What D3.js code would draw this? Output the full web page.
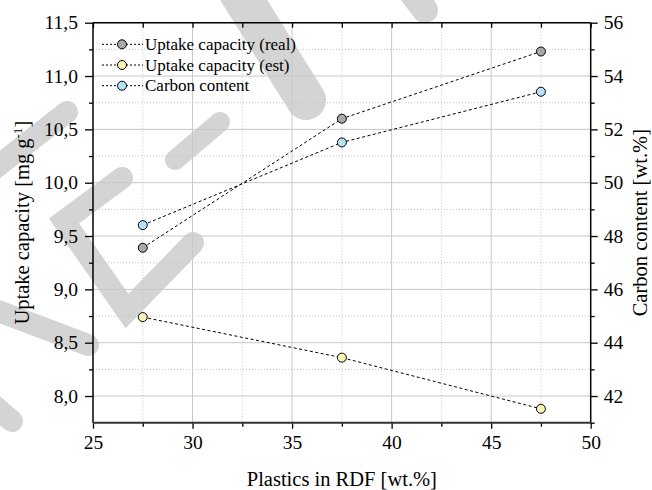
<!DOCTYPE html>
<html>
<head>
<meta charset="utf-8">
<script src="https://cdn.jsdelivr.net/npm/d3@7"></script>
<style>
  html, body { margin: 0; padding: 0; background: #fff; }
  svg { display: block; }
</style>
</head>
<body>
<div id="chart"></div>
<script>
// ---- data ----
const plastics = [27.5, 37.5, 47.5];
const uptakeReal = [9.39, 10.60, 11.23];
const uptakeEst = [8.74, 8.36, 7.88];
const carbonContent = [48.41, 51.51, 53.41];
const seriesNames = ["Uptake capacity (real)", "Uptake capacity (est)", "Carbon content"];
const seriesColors = ["#a9a9a9", "#f7f2b6", "#b6e2f8"];
const xTicks = [25, 30, 35, 40, 45, 50];
const xMinorTicks = [27.5, 32.5, 37.5, 42.5, 47.5];
const yLeftTicks = [8.0, 8.5, 9.0, 9.5, 10.0, 10.5, 11.0, 11.5];
const yLeftMinor = [8.25, 8.75, 9.25, 9.75, 10.25, 10.75, 11.25];
const yRightTicks = [42, 44, 46, 48, 50, 52, 54, 56];
const yRightMinor = [41, 43, 45, 47, 49, 51, 53, 55];

const FONT = "'Liberation Serif', Tinos, 'Times New Roman', Times, 'Nimbus Roman', 'Nimbus Roman No9 L', 'FreeSerif', 'Noto Serif', 'DejaVu Serif', Georgia, serif";
const W = 652, H = 490;
const L = 93, R = 590.7, T = 22.7, B = 422.7;

const svg = d3.select("#chart").append("svg").attr("width", W).attr("height", H);

// ---- watermark (light gray strokes) ----
const wm = [
  [[225, -30], [306, 100]],
  [[398, -25], [425, 10]],
  [[67, 112], [-20, 180]],
  [[122, 178], [64, 221], [127, 311], [193, 243]],
  [[175, 160], [220, 122]],
  [[-10, 308], [88, 345]],
  [[-15, 398], [12, 421]]
];
const wmW = [40, 26, 22, 22, 20, 22, 22];
const lineGen = d3.line();
svg.append("g").selectAll("path").data(wm).join("path")
  .attr("d", d => lineGen(d))
  .attr("fill", "none").attr("stroke", "#d4d4d4")
  .attr("stroke-width", (d, i) => wmW[i])
  .attr("stroke-linecap", "round").attr("stroke-linejoin", "miter");

// ---- scales ----
const x = d3.scaleLinear().domain([25, 50]).range([L, R]);
const yL = d3.scaleLinear().domain([7.75, 11.5]).range([B, T]);
const yR = d3.scaleLinear().domain([41, 56]).range([B, T]);

// ---- grid ----
const grid = svg.append("g");
grid.selectAll(".gxm").data(xMinorTicks).join("line")
  .attr("x1", d => x(d)).attr("x2", d => x(d)).attr("y1", T).attr("y2", B)
  .attr("stroke", "#c4c4c4").attr("stroke-width", 1).attr("stroke-dasharray", "1,2");
grid.selectAll(".gym").data(yLeftMinor).join("line")
  .attr("x1", L).attr("x2", R).attr("y1", d => yL(d)).attr("y2", d => yL(d))
  .attr("stroke", "#c4c4c4").attr("stroke-width", 1).attr("stroke-dasharray", "1,2");
grid.selectAll(".gx").data(xTicks.slice(1, -1)).join("line")
  .attr("x1", d => x(d)).attr("x2", d => x(d)).attr("y1", T).attr("y2", B)
  .attr("stroke", "#c8c8c8").attr("stroke-width", 1);
grid.selectAll(".gy").data(yLeftTicks).join("line")
  .attr("x1", L).attr("x2", R).attr("y1", d => yL(d)).attr("y2", d => yL(d))
  .attr("stroke", "#c8c8c8").attr("stroke-width", 1);

// ---- axes ----
const fmtL = d => d3.format(".1f")(d).replace(".", ",");
const axB = d3.axisBottom(x).tickValues(xTicks).tickSize(6).tickPadding(6).tickFormat(d3.format("d"));
const axBm = d3.axisBottom(x).tickValues(xMinorTicks).tickSize(4).tickFormat("");
const axL = d3.axisLeft(yL).tickValues(yLeftTicks).tickSize(8).tickPadding(7).tickFormat(fmtL);
const axLm = d3.axisLeft(yL).tickValues(yLeftMinor).tickSize(4).tickFormat("");
const axR = d3.axisRight(yR).tickValues(yRightTicks).tickSize(7).tickPadding(6).tickFormat(d3.format("d"));
const axRm = d3.axisRight(yR).tickValues(yRightMinor).tickSize(4).tickFormat("");
const axT = d3.axisBottom(x).tickValues(xTicks.concat(xMinorTicks)).tickSize(5).tickFormat("");

function styleAxis(g) {
  g.attr("font-family", null).attr("font-size", null);
  g.selectAll("path.domain").remove();
  g.selectAll("line").attr("stroke", "#000").attr("stroke-width", 1.3);
  g.selectAll("text").style("font-size", "19.5px").style("font-family", FONT).attr("fill", "#000");
}
svg.append("g").attr("transform", `translate(0,${B})`).call(axB).call(styleAxis);
svg.append("g").attr("transform", `translate(0,${B})`).call(axBm).call(styleAxis);
svg.append("g").attr("transform", `translate(0,${T})`).call(axT).call(styleAxis);
svg.append("g").attr("transform", `translate(${L},0)`).call(axL).call(styleAxis);
svg.append("g").attr("transform", `translate(${L},0)`).call(axLm).call(styleAxis);
svg.append("g").attr("transform", `translate(${R},0)`).call(axR).call(styleAxis);
svg.append("g").attr("transform", `translate(${R},0)`).call(axRm).call(styleAxis);

// frame
svg.append("line").attr("x1", L).attr("x2", R).attr("y1", T).attr("y2", T).attr("stroke", "#000").attr("stroke-width", 1.5);
svg.append("line").attr("x1", L).attr("x2", L).attr("y1", T).attr("y2", B).attr("stroke", "#000").attr("stroke-width", 1.5);
svg.append("line").attr("x1", R).attr("x2", R).attr("y1", T).attr("y2", B).attr("stroke", "#000").attr("stroke-width", 1.5);
svg.append("line").attr("x1", L).attr("x2", R).attr("y1", B).attr("y2", B).attr("stroke", "#333").attr("stroke-width", 2);

// ---- axis titles ----
svg.append("text").attr("x", (L + R) / 2).attr("y", 486).attr("text-anchor", "middle")
  .style("font-family", FONT).style("font-size", "20.5px").text("Plastics in RDF [wt.%]");
const lt = svg.append("text").attr("transform", `translate(28.5,${(T + B) / 2}) rotate(-90)`)
  .attr("text-anchor", "middle").style("font-family", FONT).style("font-size", "20.5px");
lt.append("tspan").text("Uptake capacity [mg g");
lt.append("tspan").attr("dy", -7).style("font-size", "13px").text("-1");
lt.append("tspan").attr("dy", 7).text("]");
svg.append("text").attr("transform", `translate(646.5,${(T + B) / 2}) rotate(-90)`)
  .attr("text-anchor", "middle").style("font-family", FONT).style("font-size", "20.5px").text("Carbon content [wt.%]");

// ---- series ----
const series = [
  { vals: uptakeReal, y: yL },
  { vals: uptakeEst, y: yL },
  { vals: carbonContent, y: yR }
];
series.forEach((s, i) => {
  const pts = plastics.map((p, j) => [x(p), s.y(s.vals[j])]);
  svg.append("path").attr("d", d3.line()(pts)).attr("fill", "none")
    .attr("stroke", "#000").attr("stroke-width", 1).attr("stroke-dasharray", "3,2.5");
  svg.append("g").selectAll("circle").data(pts).join("circle")
    .attr("cx", d => d[0]).attr("cy", d => d[1]).attr("r", 4.5)
    .attr("fill", seriesColors[i]).attr("stroke", "#000").attr("stroke-width", 1);
});

// ---- legend ----
const lg = svg.append("g");
const rowY = [44.3, 65, 85.7];
seriesNames.forEach((n, i) => {
  lg.append("line").attr("x1", 102).attr("x2", 143).attr("y1", rowY[i]).attr("y2", rowY[i])
    .attr("stroke", "#000").attr("stroke-width", 1).attr("stroke-dasharray", "2,2");
  lg.append("circle").attr("cx", 122).attr("cy", rowY[i]).attr("r", 4.5)
    .attr("fill", seriesColors[i]).attr("stroke", "#000").attr("stroke-width", 1);
  lg.append("text").attr("x", 145).attr("y", rowY[i] + 5.6)
    .style("font-family", FONT).style("font-size", "17px").text(n);
});
</script>
</body>
</html>
